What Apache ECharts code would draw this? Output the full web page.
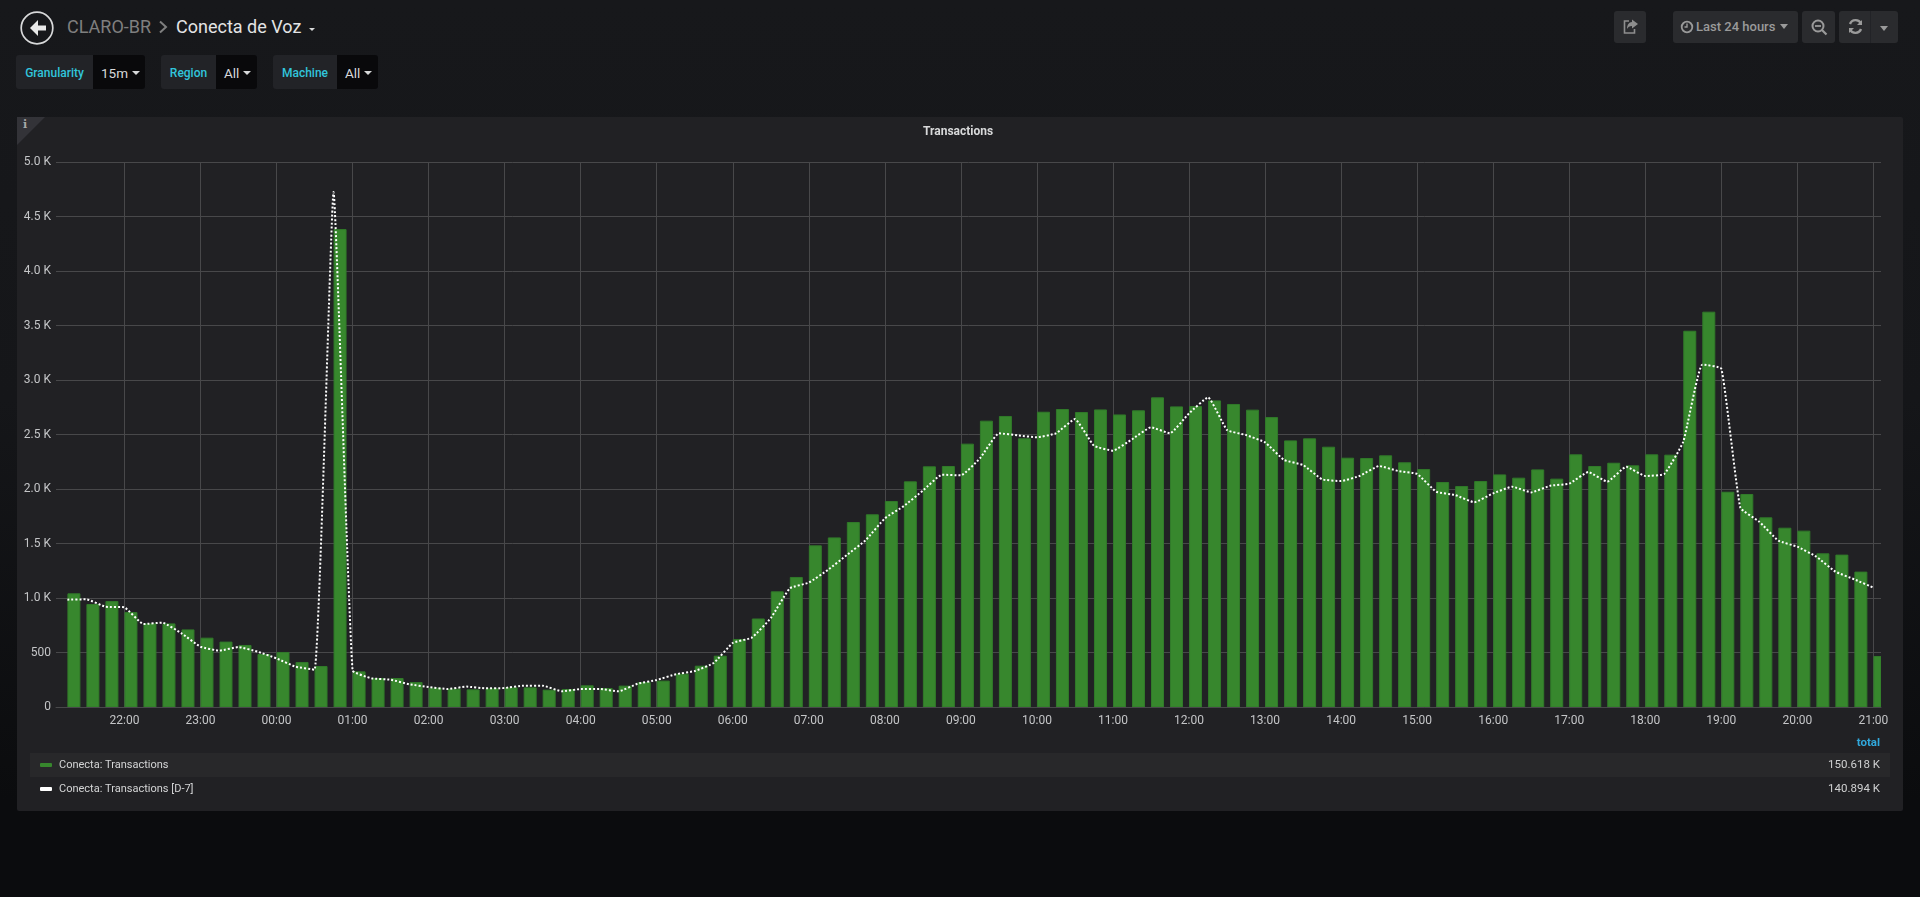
<!DOCTYPE html>
<html>
<head>
<meta charset="utf-8">
<script src="https://cdn.jsdelivr.net/npm/echarts@6/dist/echarts.min.js"></script>
<style>
html,body{margin:0;padding:0;width:1920px;height:897px;overflow:hidden;font-family:Roboto,sans-serif;
 background:linear-gradient(180deg,#17181b 0,#151619 400px,#0b0c0e 800px,#0b0c0e 897px);}
.a{position:absolute;white-space:nowrap;}
#chart{position:absolute;left:0;top:0;width:1920px;height:897px;}
.lbl{background:#222327;color:#31c5dc;font-size:12px;font-weight:500;height:34px;line-height:36px;text-align:center;border-radius:3px 0 0 3px;}
.val{background:#09090b;color:#d8d9da;font-size:13.5px;height:34px;line-height:37px;border-radius:0 3px 3px 0;padding-left:8px;box-sizing:border-box;}
.caret{display:inline-block;width:0;height:0;border-left:4.5px solid transparent;border-right:4.5px solid transparent;border-top:4.5px solid #d8d9da;vertical-align:middle;margin-left:4px;margin-top:-3px;}
.btn{background:#2a2b2e;height:32px;border-radius:3px;top:11px;}
</style>
</head>
<body>
<!-- header -->
<svg class="a" style="left:18px;top:9px" width="38" height="38" viewBox="0 0 38 38">
 <circle cx="19" cy="19" r="15.8" fill="none" stroke="#d8d9da" stroke-width="1.7"/>
 <path d="M28 16.5h-8v-5.5l-8 8 8 8v-5.5h8z" fill="#e8e8e8"/>
</svg>
<div class="a" style="left:67px;top:15px;font-size:18px;color:#7f7f7f;line-height:24px">CLARO-BR</div>
<svg class="a" style="left:158px;top:20px" width="12" height="14" viewBox="0 0 12 14"><path d="M2 1.5l6 5.5-6 5.5" fill="none" stroke="#7f7f7f" stroke-width="2"/></svg>
<div class="a" style="left:176px;top:15px;font-size:18px;color:#e3e4e5;line-height:24px">Conecta de Voz</div>
<div class="a" style="left:309px;top:28px;width:0;height:0;border-left:3.5px solid transparent;border-right:3.5px solid transparent;border-top:3.5px solid #d8d9da"></div>

<div class="a lbl" style="left:16px;top:55px;width:77px">Granularity</div>
<div class="a val" style="left:93px;top:55px;width:52px">15m<span class="caret"></span></div>
<div class="a lbl" style="left:161px;top:55px;width:55px">Region</div>
<div class="a val" style="left:216px;top:55px;width:41px">All<span class="caret"></span></div>
<div class="a lbl" style="left:273px;top:55px;width:64px">Machine</div>
<div class="a val" style="left:337px;top:55px;width:41px">All<span class="caret"></span></div>

<div class="a btn" style="left:1614px;width:32px"></div>
<svg class="a" style="left:1622px;top:18px" width="18" height="18" viewBox="0 0 18 18"><path d="M7 3H2.5v12h10v-4" fill="none" stroke="#8e8e8e" stroke-width="1.6"/><path d="M10 1.5l6 4.5-6 4.5V8C7.5 8 6 9 5 11c0-4 2-7 5-7z" fill="#8e8e8e"/></svg>
<div class="a btn" style="left:1673px;width:125px"></div>
<svg class="a" style="left:1680px;top:20px" width="14" height="14" viewBox="0 0 14 14"><circle cx="7" cy="7" r="5.3" fill="none" stroke="#9a9a9a" stroke-width="1.8"/><path d="M7 3.5V7H4.5" fill="none" stroke="#9a9a9a" stroke-width="1.4"/></svg>
<div class="a" style="left:1696px;top:18px;font-size:13px;font-weight:500;color:#9a9a9a;line-height:18px">Last 24 hours</div>
<div class="a" style="left:1780px;top:24px;width:0;height:0;border-left:4px solid transparent;border-right:4px solid transparent;border-top:5px solid #9a9a9a"></div>
<div class="a btn" style="left:1802px;width:33px"></div>
<svg class="a" style="left:1810px;top:18px" width="18" height="18" viewBox="0 0 18 18"><circle cx="8" cy="8" r="5.5" fill="none" stroke="#9a9a9a" stroke-width="2"/><path d="M5 8h6" stroke="#9a9a9a" stroke-width="1.8"/><path d="M12 12l4.5 4.5" stroke="#9a9a9a" stroke-width="2.2"/></svg>
<div class="a btn" style="left:1839px;width:59px"></div>
<div class="a" style="left:1870px;top:11px;width:1px;height:32px;background:#222327"></div>
<svg class="a" style="left:1847px;top:18px" width="17" height="17" viewBox="0 0 17 17"><path d="M14 5.5A6 6 0 0 0 3 6" fill="none" stroke="#9a9a9a" stroke-width="2.4"/><path d="M15 2v5h-5z" fill="#9a9a9a"/><path d="M3 11.5A6 6 0 0 0 14 11" fill="none" stroke="#9a9a9a" stroke-width="2.4"/><path d="M2 15v-5h5z" fill="#9a9a9a"/></svg>
<div class="a" style="left:1880px;top:26px;width:0;height:0;border-left:4px solid transparent;border-right:4px solid transparent;border-top:5px solid #9a9a9a"></div>

<!-- panel -->
<div class="a" style="left:17px;top:117px;width:1886px;height:694px;background:#212124;border-radius:2px"></div>
<svg class="a" style="left:17px;top:117px" width="28" height="28"><path d="M0 0H28L0 28z" fill="#333338"/></svg>
<div class="a" style="left:23px;top:118px;font-size:11px;font-weight:700;color:#a8a8a8;font-family:'DejaVu Serif',serif;line-height:14px">i</div>
<div class="a" style="left:30px;top:753px;width:1860px;height:24px;background:#28282a"></div>

<div id="chart"></div>

<div class="a" style="right:40px;top:734px;font-size:11.5px;font-weight:700;color:#31a8dc;line-height:16px">total</div>
<div class="a" style="right:40px;top:756px;font-size:11.5px;color:#d0d1d2;line-height:16px">150.618 K</div>
<div class="a" style="right:40px;top:780px;font-size:11.5px;color:#d0d1d2;line-height:16px">140.894 K</div>

<script>
// 15-minute slots, 21:15 through 21:00 the next day
const firstSlot = new Date(2023, 5, 1, 21, 15).getTime();
const axisStart = new Date(2023, 5, 1, 21, 6).getTime();
const axisEnd = new Date(2023, 5, 2, 21, 6).getTime();
const quarter = 900000;
const hour = 3600000;

const seriesNames = ['Conecta: Transactions', 'Conecta: Transactions [D-7]'];

const transactions = [
 1043,945,972,871,767,767,712,636,600,569,486,505,413,376,4385,327,
 266,266,229,177,168,162,171,180,180,159,165,199,174,196,229,242,
 306,379,471,624,812,1061,1193,1483,1556,1697,1768,1890,2070,2208,2211,2416,
 2627,2670,2465,2709,2734,2706,2730,2684,2722,2841,2758,2761,2813,2780,2728,2660,
 2446,2465,2388,2287,2284,2309,2245,2183,2064,2027,2073,2134,2104,2180,2095,2318,
 2211,2241,2217,2318,2315,3452,3627,1975,1954,1740,1645,1618,1410,1398,1242,468
];

const transactionsD7 = [
 985,988,920,914,761,774,676,553,517,550,508,446,370,342,4724,336,
 263,251,208,183,165,187,171,174,196,196,144,165,165,144,214,248,
 300,330,404,587,636,815,1089,1141,1257,1394,1532,1731,1844,1985,2131,2125,
 2281,2511,2492,2474,2511,2642,2397,2352,2456,2566,2511,2694,2841,2541,2495,2428,
 2266,2220,2089,2073,2122,2211,2165,2138,1975,1945,1878,1960,2021,1969,2030,2049,
 2156,2067,2205,2119,2138,2434,3141,3104,1829,1700,1526,1471,1379,1242,1171,1095
];

const slotTimes = transactions.map((_, i) => firstSlot + i * quarter);
// Bars start at their timestamp and span 13 px of 1825 px over the 24 h axis
const barSpan = 13 / 1825 * 24 * hour;

const axisText = '#c4c5c7';
const gridColor = '#48484a';

function renderBar(params, api) {
  const t = api.value(0), v = api.value(1);
  const p0 = api.coord([t, v]);
  const p1 = api.coord([t + barSpan, 0]);
  const cs = params.coordSys;
  const shape = echarts.graphic.clipRectByRect(
    {x: p0[0] + 0.5, y: p0[1] + 0.5, width: p1[0] - p0[0] - 1, height: p1[1] - p0[1] - 0.5},
    {x: cs.x, y: cs.y, width: cs.width, height: cs.height}
  );
  return shape && {
    type: 'rect', shape,
    style: {fill: '#37872d', stroke: '#317a2a', lineWidth: 1}
  };
}

const chart = echarts.init(document.getElementById('chart'), null, {width:1920, height:897});
chart.setOption({
  animation: false,
  backgroundColor: 'transparent',
  textStyle: {fontFamily: 'Roboto'},
  title: {
    text: 'Transactions', left: 923, top: 125, padding: 0,
    textStyle: {color: '#d8d9da', fontSize: 12, fontWeight: 700, fontFamily: 'Roboto', lineHeight: 14}
  },
  legend: {
    orient: 'vertical', left: 40, top: 757, itemGap: 8, itemWidth: 12, itemHeight: 4, padding: 0,
    textStyle: {color: '#d4d5d6', fontSize: 11, fontFamily: 'Roboto', padding: [0,0,0,2], lineHeight: 16, height: 16},
    selectedMode: false,
    data: [
      {name: seriesNames[0], icon: 'roundRect', itemStyle: {color: '#37872d', borderWidth: 0}},
      {name: seriesNames[1], icon: 'roundRect', itemStyle: {color: '#ffffff', borderWidth: 0}}
    ]
  },
  grid: {left: 56, right: 39, top: 162, bottom: 190, containLabel: false},
  xAxis: {
    type: 'time', min: axisStart, max: axisEnd,
    minInterval: hour, maxInterval: hour,
    axisLine: {show: true, lineStyle: {color: gridColor, width: 1}},
    axisTick: {show: false},
    axisLabel: {color: axisText, fontSize: 12, fontFamily: 'Roboto', margin: 8, hideOverlap: false,
      showMinLabel: false, showMaxLabel: false,
      formatter: v => { const d = new Date(v); return String(d.getHours()).padStart(2,'0') + ':' + String(d.getMinutes()).padStart(2,'0'); }},
    splitLine: {show: true, showMinLine: false, showMaxLine: false, lineStyle: {color: gridColor, width: 1}}
  },
  yAxis: {
    type: 'value', min: 0, max: 5000, interval: 500,
    axisLine: {show: false}, axisTick: {show: false},
    axisLabel: {color: axisText, fontSize: 12, fontFamily: 'Roboto', margin: 5,
      formatter: v => v === 0 ? '0' : v < 1000 ? String(v) : (v / 1000).toFixed(1) + ' K'},
    splitLine: {show: true, lineStyle: {color: gridColor, width: 1}}
  },
  series: [
    {
      name: seriesNames[0], type: 'custom', renderItem: renderBar, clip: true,
      encode: {x: 0, y: 1},
      itemStyle: {color: '#37872d'},
      data: transactions.map((v, i) => [slotTimes[i], v])
    },
    {
      name: seriesNames[1], type: 'line', smooth: 0.12, showSymbol: false, symbol: 'none',
      itemStyle: {color: '#ffffff'},
      lineStyle: {color: '#ffffff', width: 2, type: [2, 2]},
      data: transactionsD7.map((v, i) => [slotTimes[i], v]),
      z: 5
    }
  ]
});
</script>
</body>
</html>
